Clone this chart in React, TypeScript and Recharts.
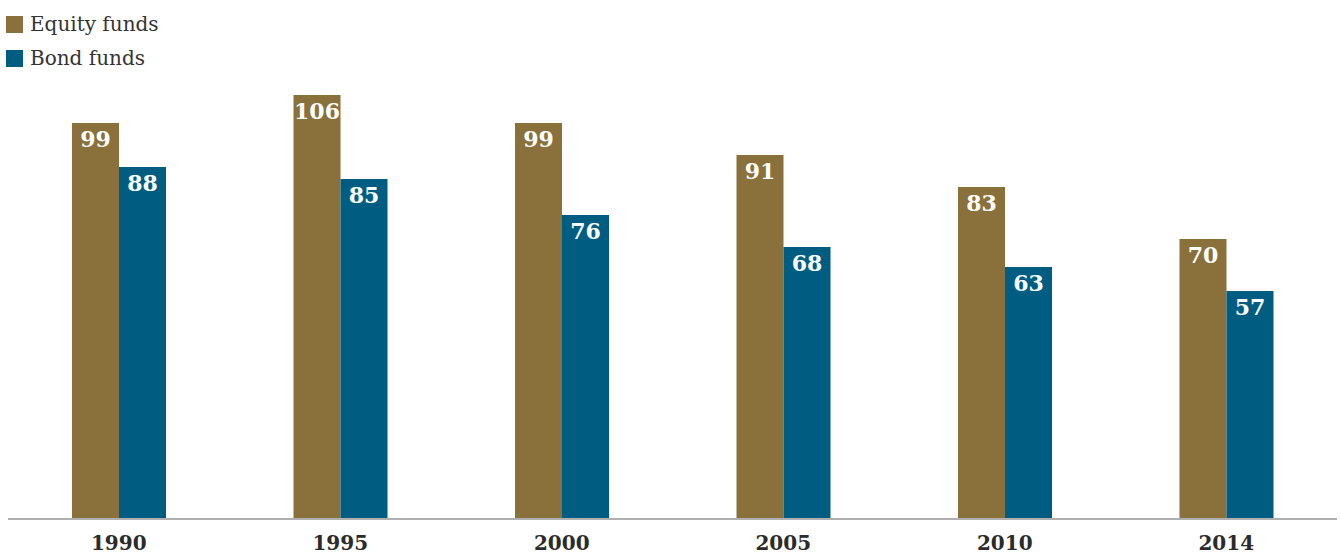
import { BarChart, Bar, XAxis, YAxis, LabelList } from "recharts";

const years = ["1990", "1995", "2000", "2005", "2010", "2014"];
const equityFunds = [99, 106, 99, 91, 83, 70];
const bondFunds = [88, 85, 76, 68, 63, 57];

const EQUITY = "#8a703b";
const BOND = "#005d82";
const FONT = "'DejaVu Serif', serif";

const data = years.map((year, i) => ({
  year,
  equity: equityFunds[i],
  bond: bondFunds[i],
}));

const legendItems = [
  { label: "Equity funds", color: EQUITY },
  { label: "Bond funds", color: BOND },
];

function LegendBox() {
  return (
    <div
      style={{
        position: "absolute",
        top: 7,
        left: 0,
        fontFamily: FONT,
        fontSize: 20,
        color: "#333",
      }}
    >
      {legendItems.map((it) => (
        <div
          key={it.label}
          style={{ display: "flex", alignItems: "center", height: 34 }}
        >
          <span
            style={{
              width: 17,
              height: 17,
              background: it.color,
              marginLeft: 6,
              marginRight: 7,
              display: "inline-block",
            }}
          />
          <span>{it.label}</span>
        </div>
      ))}
    </div>
  );
}

const labelStyle = { fontFamily: FONT, fontSize: 22, fontWeight: 700 };

export default function App() {
  return (
    <div style={{ position: "absolute", left: 0, top: 0, width: 1341, height: 554 }}>
      <BarChart
        width={1341}
        height={554}
        data={data}
        margin={{ top: 95, right: 4, bottom: 0, left: 8 }}
        barGap={0}
        barSize={47}
      >
        <XAxis
          dataKey="year"
          height={35}
          tickLine={false}
          axisLine={{ stroke: "#b0b0b0", strokeWidth: 2 }}
          tick={{ fill: "#2b2b2b", fontFamily: FONT, fontSize: 20, fontWeight: 700 }}
          tickMargin={11}
        />
        <YAxis hide width={0} domain={[0, 106]} />
        <Bar dataKey="equity" fill={EQUITY} isAnimationActive={false}>
          <LabelList
            dataKey="equity"
            position="insideTop"
            offset={8}
            fill="#fff"
            style={labelStyle}
          />
        </Bar>
        <Bar dataKey="bond" fill={BOND} isAnimationActive={false}>
          <LabelList
            dataKey="bond"
            position="insideTop"
            offset={8}
            fill="#fff"
            style={labelStyle}
          />
        </Bar>
      </BarChart>
      <LegendBox />
    </div>
  );
}
